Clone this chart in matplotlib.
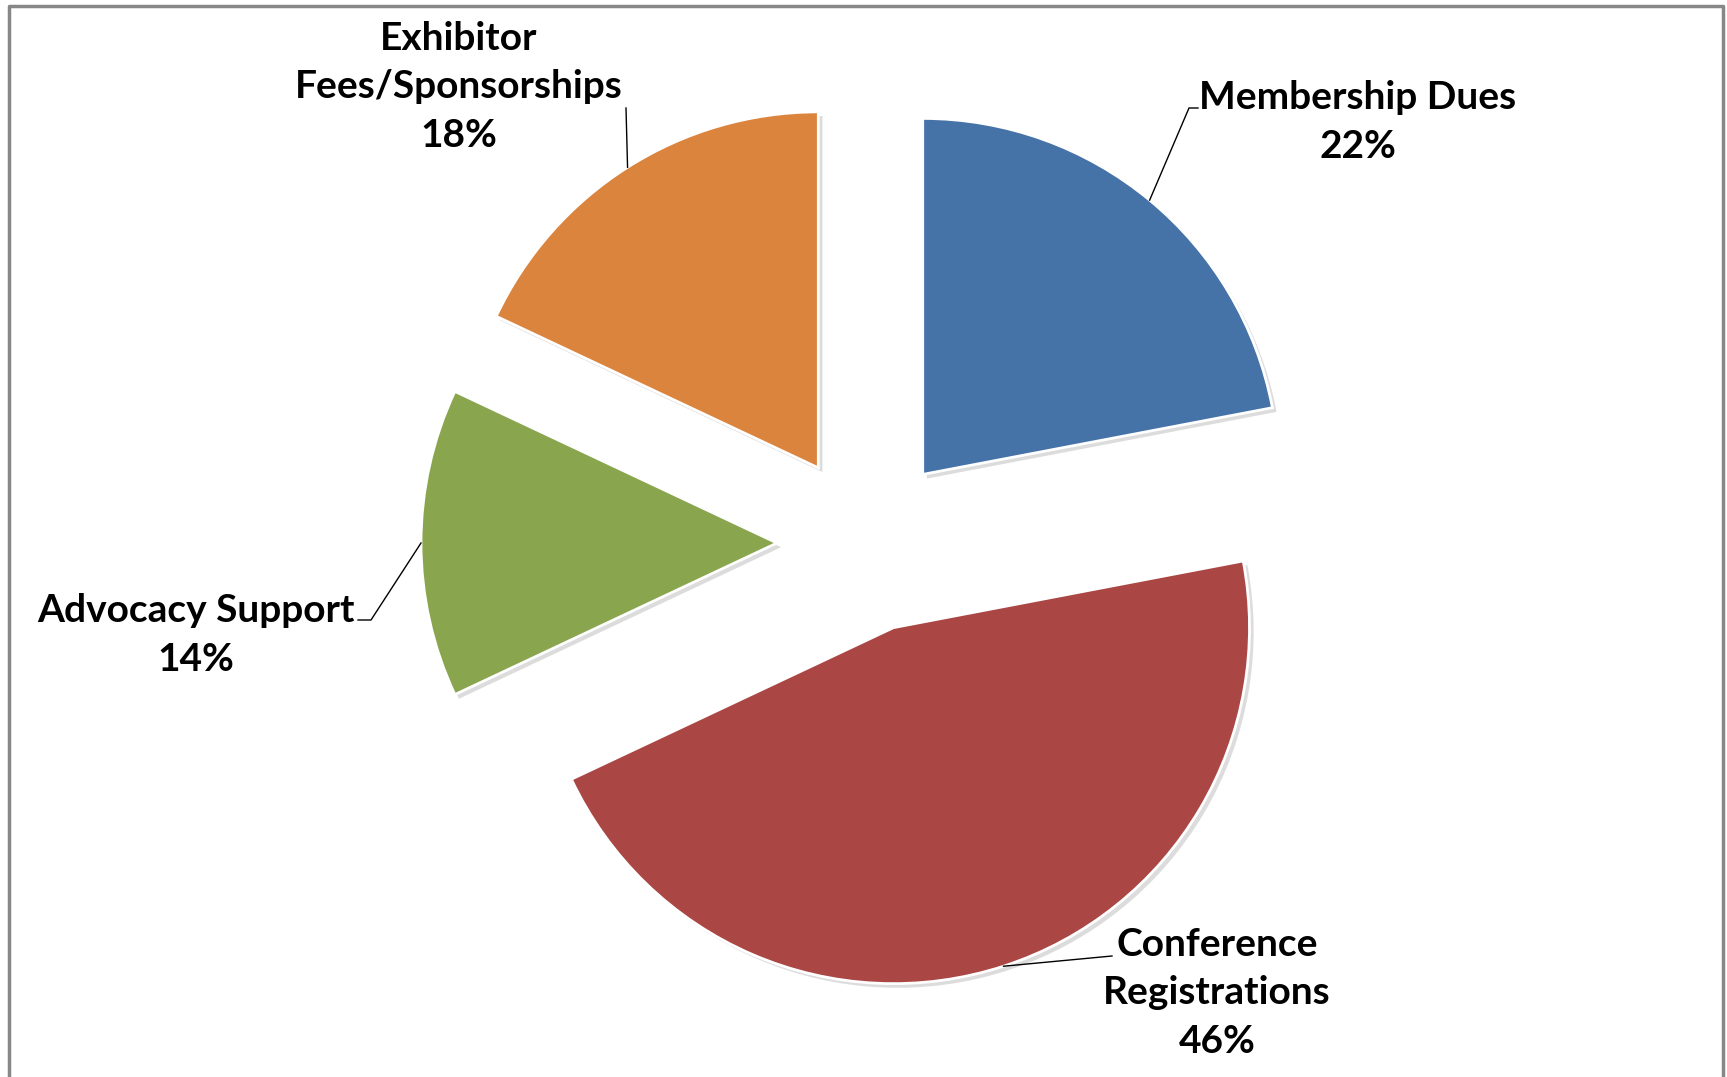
import numpy as np
import matplotlib
matplotlib.use("Agg")
import matplotlib.pyplot as plt
import matplotlib.patheffects as pe
from matplotlib.lines import Line2D

# ---- data ----
categories = ["Membership Dues", "Conference\nRegistrations", "Advocacy Support", "Exhibitor\nFees/Sponsorships"]
shares = [22, 46, 14, 18]
colors = ["#4572A7", "#AA4643", "#89A54E", "#DB843D"]

W, H = 1727, 1077
fig = plt.figure(figsize=(W / 100, H / 100), dpi=100)
ax = fig.add_axes([0, 0, 1, 1])

cx, cy, R = 866, 534, 356
explode_frac = 0.25
explode_dist = explode_frac * R
wedges, _ = ax.pie(shares, colors=colors, startangle=90, counterclock=False,
                   explode=[explode_dist] * len(shares), center=(cx, cy), radius=R,
                   wedgeprops=dict(edgecolor="white", linewidth=2))
for w in wedges:
    w.set_path_effects([pe.SimplePatchShadow(offset=(3, -3), shadow_rgbFace="#bbbbbb", alpha=0.5),
                        pe.Normal()])
ax.set_aspect("auto")
ax.set_xlim(0, W)
ax.set_ylim(0, H)
ax.set_axis_off()

# label text positions (pixels, y up) and leader elbow points
label_pos = [(1358, H - 122), (1217, H - 993), (196, H - 635), (459, H - 87)]
label_text = [f"{c}\n{s}%" for c, s in zip(categories, shares)]
elbows = [[(1189, H - 108), (1198, H - 108)],
          [(1112, H - 956)],
          [(371, H - 620), (358, H - 620)],
          [(626, H - 108)]]

total = sum(shares)
start = 90.0
for i, (w, s) in enumerate(zip(wedges, shares)):
    span = 360.0 * s / total
    mid = np.deg2rad(start - span / 2)
    start -= span
    ox = cx + explode_dist * np.cos(mid)
    oy = cy + explode_dist * np.sin(mid)
    px, py = ox + R * np.cos(mid), oy + R * np.sin(mid)
    pts = [(px, py)] + elbows[i]
    ax.add_line(Line2D([p[0] for p in pts], [p[1] for p in pts], color="black", lw=1))
    ax.text(label_pos[i][0], label_pos[i][1], label_text[i], ha="center", va="center",
            fontsize=28, fontweight="bold", family="Lato", linespacing=1.46)

# outer frame
ax.add_line(Line2D([9, 9, 1723, 1723], [-5, H - 6, H - 6, -5], color="#878787", lw=2.5))

fig.savefig("out.png", dpi=100)
